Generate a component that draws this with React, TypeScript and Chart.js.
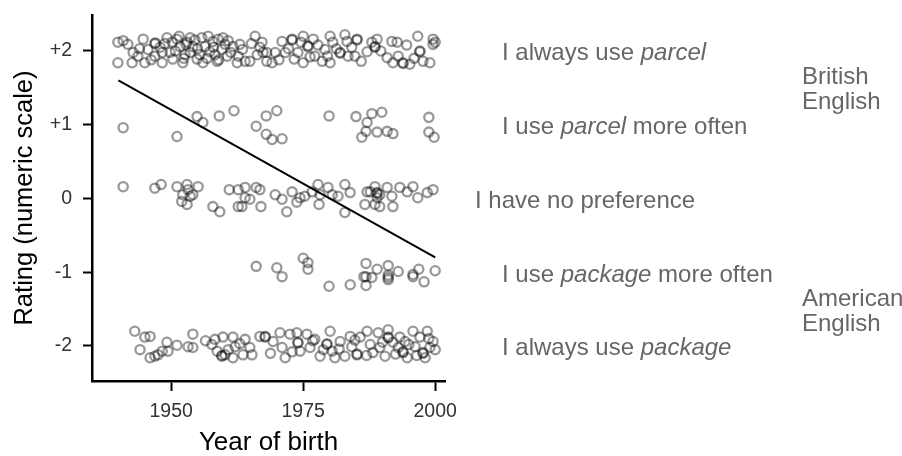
import { useEffect, useRef } from "react";
import { Chart, registerables } from "chart.js";

Chart.register(...registerables);

// Respondents: [year of birth, rating (jittered)], one list per answer
const alwaysParcel: [number, number][] = [
  [1939.9, 2.12], [1939.9, 1.84], [1940.9, 2.14], [1941.8, 2.09], [1942.8, 1.98],
  [1942.6, 1.84], [1943.7, 1.93], [1944.7, 2.16], [1945.0, 1.84], [1945.6, 2.02],
  [1946.9, 2.10], [1947.0, 2.11], [1946.9, 1.93], [1947.9, 2.05], [1948.3, 1.84],
  [1948.3, 1.98], [1949.2, 2.18], [1950.2, 2.12], [1949.8, 1.98], [1951.1, 2.16],
  [1950.3, 1.89], [1951.7, 2.06], [1952.2, 1.84], [1952.8, 2.09], [1952.6, 1.95],
  [1953.6, 2.18], [1953.6, 1.98], [1954.1, 2.06], [1954.9, 1.89], [1955.4, 1.95],
  [1955.8, 2.18], [1956.0, 1.84], [1956.4, 2.06], [1957.3, 1.99], [1957.9, 2.13],
  [1958.3, 1.95], [1958.7, 1.86], [1958.9, 2.16], [1959.8, 2.18], [1959.6, 2.02],
  [1960.2, 2.09], [1960.6, 1.93], [1961.7, 2.06], [1962.5, 1.84], [1962.7, 1.93],
  [1963.0, 2.09], [1964.0, 1.86], [1964.9, 1.86], [1965.9, 2.20], [1966.3, 1.95],
  [1967.2, 2.12], [1967.4, 1.98], [1968.1, 1.86], [1968.1, 1.98], [1969.1, 1.84],
  [1969.7, 1.98], [1971.0, 2.13], [1971.6, 1.98], [1972.9, 2.16], [1972.9, 2.15],
  [1974.0, 1.98], [1975.0, 2.20], [1975.0, 1.84], [1975.9, 2.06], [1975.9, 2.07],
  [1976.9, 2.16], [1977.2, 1.93], [1978.6, 1.86], [1979.1, 2.02], [1980.1, 2.20],
  [1980.1, 1.84], [1980.6, 2.12], [1982.0, 1.98], [1982.0, 1.97], [1982.9, 2.22],
  [1983.3, 2.13], [1983.5, 1.93], [1985.2, 2.16], [1985.2, 2.15], [1984.8, 1.93],
  [1987.1, 1.99], [1988.0, 2.12], [1989.0, 2.16], [1988.6, 2.06], [1988.6, 2.05],
  [1990.9, 1.91], [1991.8, 2.13], [1992.8, 2.12], [1992.0, 1.84], [1993.0, 1.93],
  [1993.9, 1.84], [1993.9, 1.83], [1995.2, 1.82], [1996.7, 2.20], [1997.1, 1.99],
  [1997.1, 2.00], [1997.7, 1.86], [1999.0, 1.84], [1999.6, 2.16], [1999.6, 2.09],
  [1944.0, 2.03], [1946.2, 1.88], [1948.8, 2.10], [1950.8, 2.00], [1951.5, 2.20],
  [1952.4, 1.90], [1953.0, 2.12], [1954.5, 2.15], [1955.0, 2.03], [1956.8, 1.90],
  [1957.0, 2.20], [1958.0, 2.05], [1959.0, 1.88], [1960.8, 2.14], [1961.3, 1.98],
  [1963.5, 2.02], [1965.2, 2.10], [1966.8, 2.05], [1970.4, 1.88], [1972.2, 2.03],
  [1973.3, 1.89], [1974.6, 2.12], [1976.3, 1.92], [1977.8, 2.08], [1979.6, 1.93],
  [1981.3, 2.03], [1984.2, 2.05], [1986.0, 1.86], [1989.7, 2.00], [1994.6, 2.08],
  [1996.0, 1.90], [2000.0, 2.12],
];

const moreParcel: [number, number][] = [
  [1940.9, 0.96], [1951.1, 0.84], [1954.9, 1.11], [1956.0, 1.03], [1959.1, 1.12],
  [1961.9, 1.19], [1966.1, 0.98], [1968.0, 1.12], [1968.0, 0.87], [1970.0, 1.19],
  [1969.1, 0.80], [1971.0, 0.81], [1979.9, 1.12], [1985.0, 1.11], [1987.1, 1.03],
  [1988.0, 1.15], [1989.9, 1.17], [1986.9, 0.91], [1986.1, 0.83], [1989.0, 0.90],
  [1990.9, 0.91], [1992.0, 0.88], [1998.8, 1.10], [1998.8, 0.90], [1999.8, 0.83],
];

const noPreference: [number, number][] = [
  [1940.9, 0.16], [1946.9, 0.14], [1948.1, 0.19], [1951.1, 0.16], [1953.0, 0.19],
  [1953.2, 0.12], [1955.1, 0.16], [1952.2, 0.05], [1953.6, 0.03], [1954.1, 0.05],
  [1952.0, -0.04], [1953.0, -0.08], [1957.9, -0.11], [1959.2, -0.18], [1961.0, 0.12],
  [1962.7, 0.12], [1964.0, 0.15], [1966.1, 0.15], [1964.0, 0.01], [1964.9, -0.01],
  [1963.4, -0.11], [1967.0, -0.11], [1962.7, -0.11], [1966.8, 0.12], [1969.7, 0.05],
  [1971.0, -0.01], [1971.9, -0.18], [1972.9, 0.09], [1973.8, -0.05], [1974.4, 0.01],
  [1975.3, 0.03], [1976.7, 0.09], [1977.8, 0.19], [1978.2, 0.05], [1978.0, -0.08],
  [1979.7, 0.15], [1980.5, 0.05], [1981.6, 0.03], [1982.9, 0.19], [1983.9, 0.08],
  [1982.9, -0.19], [1987.1, 0.09], [1986.7, -0.08], [1988.6, 0.16], [1989.0, 0.08],
  [1989.0, 0.07], [1989.0, 0.01], [1988.6, -0.08], [1989.5, 0.05], [1990.9, 0.15],
  [1991.8, 0.03], [1992.0, -0.11], [1993.3, 0.15], [1994.7, 0.09], [1995.8, 0.16],
  [1996.7, 0.01], [1998.5, 0.08], [1999.6, 0.12], [1987.7, 0.09], [1989.5, -0.11],
];

const morePackage: [number, number][] = [
  [1966.1, -0.92], [1970.0, -0.94], [1971.0, -1.06], [1975.0, -0.81], [1975.9, -0.87],
  [1975.9, -0.96], [1979.9, -1.19], [1983.9, -1.17], [1986.9, -0.88], [1986.9, -1.06],
  [1986.9, -1.18], [1988.0, -1.07], [1989.0, -0.96], [1991.1, -0.91], [1991.1, -1.07],
  [1991.1, -1.04], [1991.1, -1.10], [1993.0, -0.99], [1995.8, -1.06], [1995.8, -1.03],
  [1996.9, -0.96], [1997.9, -1.13], [2000.0, -0.98], [1986.5, -1.06],
];

const alwaysPackage: [number, number][] = [
  [1943.1, -1.80], [1944.1, -2.05], [1945.0, -1.88], [1946.0, -1.87], [1946.0, -2.16],
  [1946.9, -2.14], [1947.5, -2.12], [1948.3, -2.07], [1949.2, -1.95], [1949.4, -2.07],
  [1951.1, -1.99], [1953.2, -2.01], [1954.1, -1.84], [1954.1, -2.02], [1957.7, -1.98],
  [1958.3, -1.91], [1958.7, -2.07], [1959.8, -1.88], [1959.6, -2.14], [1959.6, -2.13],
  [1960.2, -2.12], [1961.7, -1.88], [1962.1, -2.01], [1961.7, -2.16], [1964.0, -1.91],
  [1963.6, -2.12], [1964.9, -2.02], [1965.3, -2.12], [1966.8, -1.87], [1967.8, -1.87],
  [1967.8, -1.88], [1969.3, -1.94], [1970.6, -1.82], [1971.0, -2.02], [1971.6, -2.16],
  [1972.5, -1.84], [1973.8, -1.82], [1974.0, -1.95], [1974.0, -1.96], [1974.4, -2.07],
  [1975.7, -1.84], [1976.3, -2.02], [1977.2, -1.91], [1978.2, -2.14], [1979.5, -1.98],
  [1979.5, -1.97], [1980.1, -1.80], [1980.5, -2.07], [1981.0, -2.16], [1982.0, -1.94],
  [1982.9, -2.14], [1983.9, -1.87], [1984.2, -2.01], [1985.2, -2.12], [1985.2, -2.11],
  [1985.8, -1.88], [1987.1, -1.80], [1987.7, -1.98], [1988.2, -2.09], [1989.2, -1.82],
  [1989.5, -2.02], [1990.5, -2.14], [1991.1, -1.88], [1991.1, -1.89], [1991.1, -1.78],
  [1992.0, -1.95], [1993.0, -2.02], [1993.3, -1.88], [1993.9, -2.09], [1993.9, -2.08],
  [1994.3, -1.94], [1994.7, -2.16], [1995.8, -1.80], [1996.2, -2.01], [1997.1, -1.88],
  [1997.7, -2.09], [1997.7, -2.10], [1998.1, -2.16], [1998.5, -1.80], [1999.6, -1.94],
  [1999.0, -2.02],
  [1956.5, -1.93], [1960.8, -2.05], [1963.0, -1.97], [1968.8, -2.10], [1972.9, -2.08],
  [1976.8, -1.93], [1978.8, -2.05], [1981.8, -2.04], [1984.8, -1.92], [1987.0, -2.13],
  [1990.0, -1.95], [1992.5, -2.11], [1995.0, -1.98], [1996.5, -2.13], [1998.8, -1.90],
  [2000.0, -2.05],
];

// Fitted linear trend of rating on year of birth
const trendYears = [1940, 2000];
const trendRatings = [1.6, -0.8];

const xTickValues = [1950, 1975, 2000];
const yTickValues = [2, 1, 0, -1, -2];
const yTickLabels = ["+2", "+1", "0", "-1", "-2"];

// Answer wording beside each rating level; second item marks italic runs
const answerRatings = [2, 1, 0, -1, -2];
const answerTexts: [string, boolean][][] = [
  [["I always use ", false], ["parcel", true]],
  [["I use ", false], ["parcel", true], [" more often", false]],
  [["I have no preference", false]],
  [["I use ", false], ["package", true], [" more often", false]],
  [["I always use ", false], ["package", true]],
];
const varietyLabels: [string, string][] = [
  ["British", "English"],
  ["American", "English"],
];
const varietyBetween: [number, number][] = [
  [2, 1],
  [-1, -2],
];

const FONT = '"Liberation Sans", Arial, Helvetica, sans-serif';

const sideText = {
  id: "sideText",
  afterDraw(chart: any) {
    const { ctx, chartArea, scales } = chart;
    const ys = scales.y;
    ctx.save();
    ctx.fillStyle = "#666666";
    ctx.textBaseline = "alphabetic";
    ctx.textAlign = "left";
    answerTexts.forEach((runs, i) => {
      let x = chartArea.right + (answerRatings[i] === 0 ? 30 : 57);
      const base = ys.getPixelForValue(answerRatings[i]) + 9.5;
      runs.forEach(([t, italic]) => {
        ctx.font = `${italic ? "italic " : ""}24px ${FONT}`;
        ctx.fillText(t, x, base);
        x += ctx.measureText(t).width;
      });
    });
    ctx.font = `24px ${FONT}`;
    varietyLabels.forEach((lines, i) => {
      const [a, b] = varietyBetween[i];
      const mid = (ys.getPixelForValue(a) + ys.getPixelForValue(b)) / 2;
      const x = chartArea.right + 357;
      ctx.fillText(lines[0], x, mid - 3.5);
      ctx.fillText(lines[1], x, mid + 21.5);
    });
    ctx.restore();
  },
};

const toPoints = (rows: [number, number][]) => rows.map(([x, y]) => ({ x, y }));

export default function App() {
  const ref = useRef<HTMLCanvasElement | null>(null);

  useEffect(() => {
    if (!ref.current) return;
    const pointStyle = {
      type: "scatter" as const,
      pointRadius: 4.6,
      pointBorderWidth: 2.3,
      pointBorderColor: "rgba(0,0,0,0.4)",
      pointBackgroundColor: "rgba(0,0,0,0)",
      borderColor: "rgba(0,0,0,0.4)",
      backgroundColor: "rgba(0,0,0,0)",
    };
    const chart = new Chart(ref.current, {
      type: "scatter",
      data: {
        datasets: [
          {
            type: "line",
            label: "trend",
            data: trendYears.map((x, i) => ({ x, y: trendRatings[i] })),
            borderColor: "#000",
            borderWidth: 2,
            pointRadius: 0,
            fill: false,
          } as any,
          { ...pointStyle, label: "I always use parcel", data: toPoints(alwaysParcel) },
          { ...pointStyle, label: "I use parcel more often", data: toPoints(moreParcel) },
          { ...pointStyle, label: "I have no preference", data: toPoints(noPreference) },
          { ...pointStyle, label: "I use package more often", data: toPoints(morePackage) },
          { ...pointStyle, label: "I always use package", data: toPoints(alwaysPackage) },
        ],
      },
      options: {
        responsive: false,
        animation: false,
        layout: { padding: { left: 0, top: 15, right: 457, bottom: 0 } },
        plugins: {
          legend: { display: false },
          tooltip: { enabled: false },
        },
        scales: {
          x: {
            type: "linear",
            min: 1935,
            max: 2001.86,
            afterBuildTicks: (s: any) => {
              s.ticks = xTickValues.map((value) => ({ value }));
            },
            afterFit: (s: any) => {
              s.height = 75;
              s.paddingLeft = 0;
              s.paddingRight = 0;
            },
            grid: {
              display: true,
              drawOnChartArea: false,
              drawTicks: true,
              tickLength: 10,
              tickWidth: 2,
              tickColor: "#000",
            },
            border: { display: true, color: "#000", width: 2.5 },
            ticks: {
              color: "#333333",
              font: { family: FONT, size: 19.5 },
              padding: 9,
              maxRotation: 0,
              callback: (v: any) => String(v),
            },
            title: {
              display: true,
              text: "Year of birth",
              color: "#000",
              font: { family: FONT, size: 26, lineHeight: 1 },
              padding: { top: 0, bottom: 0 },
            },
          },
          y: {
            type: "linear",
            min: -2.475,
            max: 2.488,
            afterBuildTicks: (s: any) => {
              s.ticks = yTickValues.map((value) => ({ value }));
            },
            afterFit: (s: any) => {
              s.width = 92;
              s.paddingTop = 0;
              s.paddingBottom = 0;
            },
            grid: {
              display: true,
              drawOnChartArea: false,
              drawTicks: true,
              tickLength: 9,
              tickWidth: 2,
              tickColor: "#000",
            },
            border: { display: true, color: "#000", width: 2.5 },
            ticks: {
              color: "#333333",
              font: { family: FONT, size: 19.5 },
              padding: 11,
              callback: (v: any) => yTickLabels[yTickValues.indexOf(Number(v))] ?? "",
            },
            title: {
              display: true,
              text: "Rating (numeric scale)",
              color: "#000",
              font: { family: FONT, size: 25.5, lineHeight: 1 },
              padding: { top: 12, bottom: 0 },
            },
          },
        },
      },
      plugins: [sideText],
    });
    return () => chart.destroy();
  }, []);

  return (
    <div style={{ position: "fixed", left: 0, top: 0, width: 902, height: 456, background: "#fff" }}>
      <canvas ref={ref} width={902} height={456} />
    </div>
  );
}
